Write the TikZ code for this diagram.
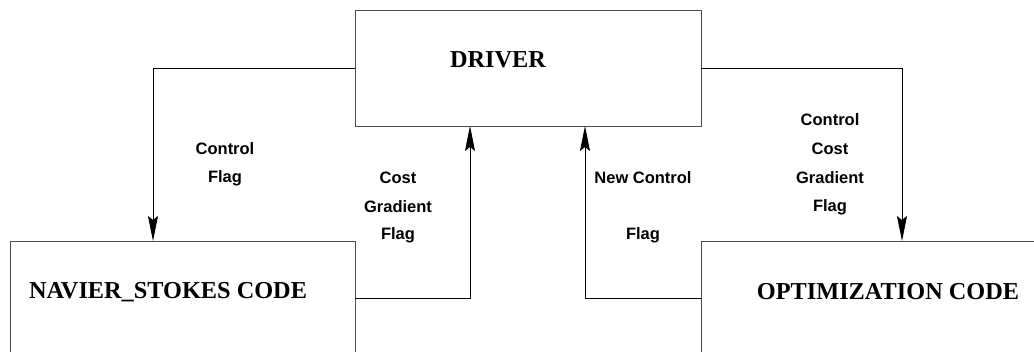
\documentclass[tikz,border=0pt]{standalone}
\usepackage{fontspec}
\setmainfont{Liberation Serif}
\newfontfamily\lblfont{Liberation Sans}
\usetikzlibrary{arrows.meta}
\begin{document}
\begin{tikzpicture}[x=1pt,y=-1pt,
  box/.style={draw=black!70,line width=0.9pt,rectangle,inner sep=0pt},
  title/.style={font=\fontsize{24.3}{28}\selectfont\bfseries,inner sep=0pt},
  lbl/.style={font=\lblfont\fontsize{16.5}{29}\selectfont\bfseries,align=center,inner sep=0pt},
  arr/.style={draw=black,line width=0.9pt,-{Stealth[length=25pt,width=10pt,inset=4pt]}}]
\useasboundingbox (0,0) rectangle (1034,352);
\clip (0,0) rectangle (1034,352);
\fill[white] (0,0) rectangle (1034,352);
% boxes
\node[box,minimum width=346pt,minimum height=116pt] (drv) at (528,68) {};
\node[box,minimum width=345pt,minimum height=200pt,anchor=north west] (nav) at (10,241) {};
\node[box,minimum width=360pt,minimum height=200pt,anchor=north west] (opt) at (701,241) {};
% titles
\node[title] (tdrv) at (498,60) {DRIVER};
\node[title] (tnav) at (168,292) {NAVIER\_STOKES CODE};
\node[title] (topt) at (888,292) {OPTIMIZATION CODE};
% coordinates
\coordinate (p1) at (153,68);
\coordinate (p2) at (153,241);
\coordinate (q0) at (355,298);
\coordinate (q1) at (470,298);
\coordinate (q2) at (470,126);
\coordinate (r0) at (701,298);
\coordinate (r1) at (585,298);
\coordinate (r2) at (585,126);
\coordinate (s1) at (902,68);
\coordinate (s2) at (902,241);
% connectors
\draw[arr] (drv.west) -- (p1) -- (p2);
\draw[arr] (q0) -- (q1) -- (q2);
\draw[arr] (r0) -- (r1) -- (r2);
\draw[arr] (drv.east) -- (s1) -- (s2);
% labels
\node[lbl] (l1a) at (225,149) {Control};
\node[lbl] (l1b) at (225,178) {Flag};
\node[lbl] (l2a) at (398,178) {Cost};
\node[lbl] (l2b) at (398,207) {Gradient};
\node[lbl] (l2c) at (398,235) {Flag};
\node[lbl] (l3a) at (643,178) {New Control};
\node[lbl] (l3b) at (643,235) {Flag};
\node[lbl] (l4a) at (830,120) {Control};
\node[lbl] (l4b) at (830,149) {Cost};
\node[lbl] (l4c) at (830,178) {Gradient};
\node[lbl] (l4d) at (830,207) {Flag};
\end{tikzpicture}
\end{document}
